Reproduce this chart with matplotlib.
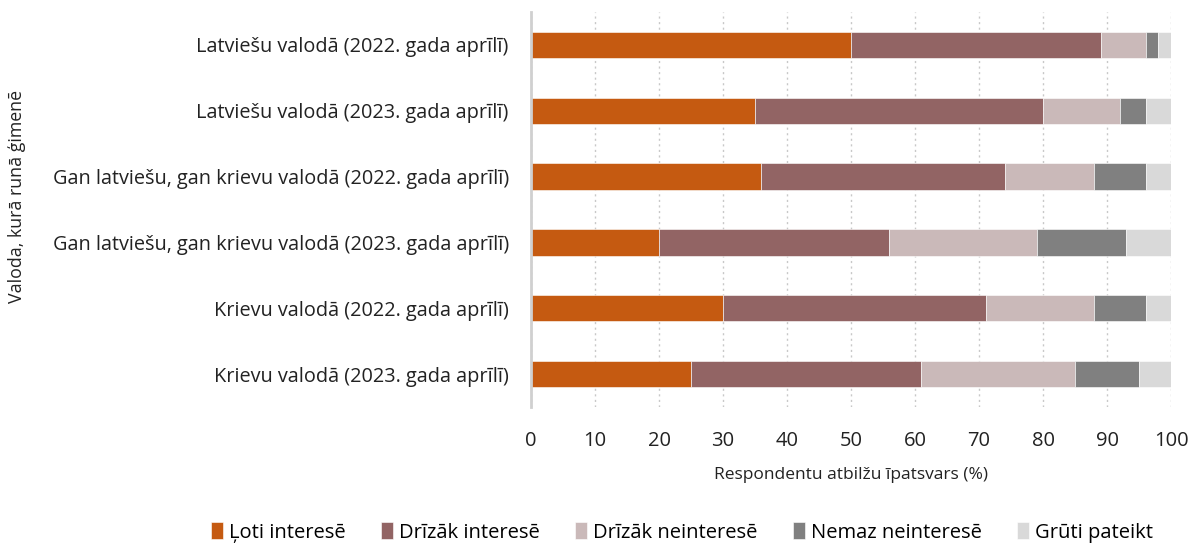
import matplotlib
matplotlib.use('Agg')
import matplotlib.pyplot as plt
import numpy as np

plt.rcParams['font.family'] = ['Open Sans', 'DejaVu Sans']

categories = [
    'Latviešu valodā (2022. gada aprīlī)',
    'Latviešu valodā (2023. gada aprīlī)',
    'Gan latviešu, gan krievu valodā (2022. gada aprīlī)',
    'Gan latviešu, gan krievu valodā (2023. gada aprīlī)',
    'Krievu valodā (2022. gada aprīlī)',
    'Krievu valodā (2023. gada aprīlī)',
]
series_names = ['Ļoti interesē', 'Drīzāk interesē', 'Drīzāk neinteresē',
                'Nemaz neinteresē', 'Grūti pateikt']
loti_interese = [50, 35, 36, 20, 30, 25]
drizak_interese = [39, 45, 38, 36, 41, 36]
drizak_neinterese = [7, 12, 14, 23, 17, 24]
nemaz_neinterese = [2, 4, 8, 14, 8, 10]
gruti_pateikt = [2, 4, 4, 7, 4, 5]
colors = ['#C55A11', '#926464', '#CAB9B9', '#808080', '#D9D9D9']

fig = plt.figure(figsize=(11.92, 5.47), dpi=100)
ax = fig.add_axes([0.4455, 0.256, 0.537, 0.722])

y = np.arange(len(categories))
left = np.zeros(len(categories))
for name, vals, c in zip(series_names,
                         [loti_interese, drizak_interese, drizak_neinterese,
                          nemaz_neinterese, gruti_pateikt], colors):
    ax.barh(y, vals, left=left, height=0.4, color=c, label=name,
            edgecolor='white', linewidth=0.4, zorder=2)
    left += np.array(vals)

ax.set_ylim(5.5, -0.5)
ax.set_xlim(0, 100)
ax.set_xticks(range(0, 101, 10))
ax.set_yticks(y)
ax.set_yticklabels(categories, fontsize=14.3, color='#222222')
ax.tick_params(axis='x', labelsize=14.5, colors='#222222', length=0, pad=17)
ax.tick_params(axis='y', length=0, pad=16)
ax.xaxis.grid(True, linestyle=(0, (1.5, 2.5)), color='#C8C8C8', linewidth=1, zorder=0)
for s in ['top', 'right', 'bottom']:
    ax.spines[s].set_visible(False)
ax.spines['left'].set_color('#D0D0D0')
ax.spines['left'].set_linewidth(2)

ax.set_xlabel('Respondentu atbilžu īpatsvars (%)', fontsize=12.5, labelpad=12, color='#222222')
fig.text(0.014, 0.64, 'Valoda, kurā runā ģimenē', rotation=90, fontsize=12.8,
         va='center', ha='center', color='#222222')

fig.legend(loc='lower center', bbox_to_anchor=(0.572, -0.025), ncol=5, frameon=False,
           fontsize=14.5, handlelength=0.6, handleheight=0.9, handletextpad=0.3,
           columnspacing=1.75)

fig.savefig('out.png', dpi=100)
